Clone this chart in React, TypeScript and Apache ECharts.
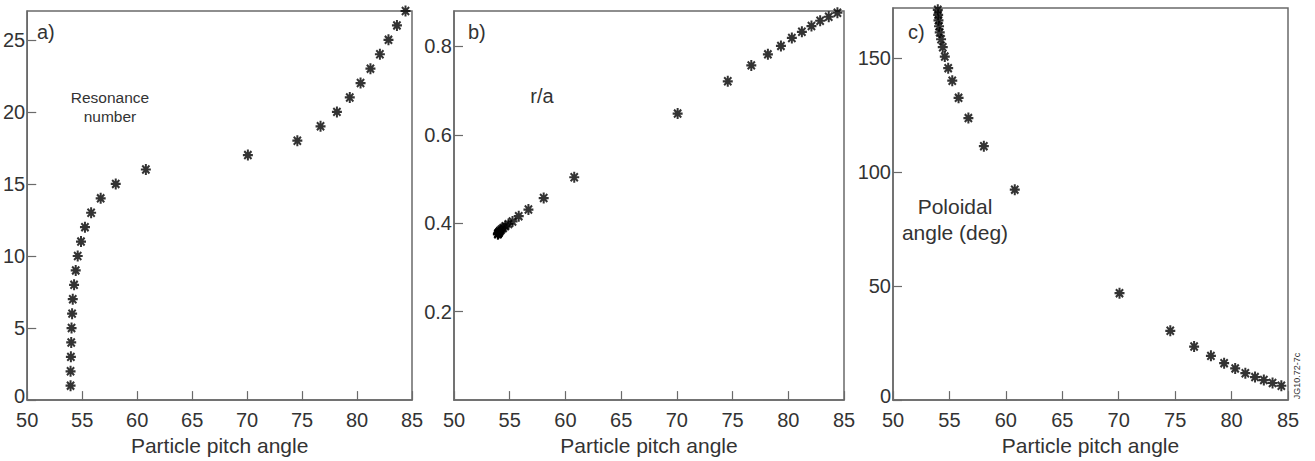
import React, { useEffect, useRef } from "react";
import * as echarts from "echarts";

// Resonance numbers 1..27 and their particle pitch angles
const resonanceNumber = [1,2,3,4,5,6,7,8,9,10,11,12,13,14,15,16,17,18,19,20,21,22,23,24,25,26,27];
const pitchAngle = [53.94,53.94,53.97,54.0,54.03,54.08,54.14,54.26,54.41,54.59,54.89,55.25,55.81,56.68,58.05,60.79,70.07,74.57,76.68,78.17,79.34,80.32,81.22,82.08,82.86,83.63,84.41];
const rOverA = [0.375,0.376,0.377,0.378,0.379,0.381,0.383,0.386,0.389,0.393,0.398,0.404,0.416,0.431,0.457,0.504,0.648,0.721,0.757,0.782,0.801,0.819,0.833,0.846,0.858,0.867,0.876];
const poloidalAngle = [173.5,172.3,171.2,169.0,166.6,164.0,161.3,158.3,154.8,150.7,145.6,140.1,132.6,123.7,111.4,92.3,46.9,30.4,23.5,19.4,16.2,13.9,11.8,10.1,8.8,7.5,6.3];

const xTitle = "Particle pitch angle";
const FONT = "Liberation Sans, Arial, Helvetica, sans-serif";
const TXT = "#333";
const AX = "#6a6a6a";

const STAR = "path://M0,-5L0,5M-5,0L5,0M-3.6,-3.6L3.6,3.6M-3.6,3.6L3.6,-3.6";

export default function App() {
  const ref = useRef<HTMLDivElement>(null);
  useEffect(() => {
    if (!ref.current) return;
    const chart = echarts.init(ref.current, null, { renderer: "svg" });
    const grids = [
      { left: 21, top: 11, width: 391, height: 391 },
      { left: 454, top: 11, width: 390, height: 391 },
      { left: 893, top: 8, width: 395, height: 394 },
    ];
    const yDefs = [
      { min: 0, max: 27, interval: 5, showMin: true },
      { min: 0, max: 0.88, interval: 0.2, showMin: false },
      { min: 0, max: 172, interval: 50, showMin: true },
    ];
    const series = [
      resonanceNumber.map((n, i) => [pitchAngle[i], n]),
      rOverA.map((v, i) => [pitchAngle[i], v]),
      poloidalAngle.map((v, i) => [pitchAngle[i], v]),
    ];
    const option: any = {
      animation: false,
      backgroundColor: "#fff",
      grid: grids.map((g) => ({ ...g, show: true, borderColor: AX, borderWidth: 1.5, backgroundColor: "transparent" })),
      xAxis: grids.map((_, i) => ({
        type: "value",
        gridIndex: i,
        min: 50,
        max: 85,
        interval: 5,
        name: xTitle,
        nameLocation: "middle",
        nameGap: 31,
        nameTextStyle: { fontFamily: FONT, fontSize: 21, color: TXT },
        axisLine: { show: true, lineStyle: { color: AX, width: 1.5 } },
        axisTick: { show: true, inside: true, length: 9, lineStyle: { color: AX, width: 1.2 } },
        axisLabel: { fontFamily: FONT, fontSize: 20, lineHeight: 18, color: TXT, margin: 11 },
        splitLine: { show: false },
      })),
      yAxis: yDefs.map((d, i) => ({
        type: "value",
        gridIndex: i,
        min: d.min,
        max: d.max,
        interval: d.interval,
        axisLine: { show: true, lineStyle: { color: AX, width: 1.5 } },
        axisTick: { show: true, inside: true, length: 9, lineStyle: { color: AX, width: 1.2 } },
        axisLabel: {
          fontFamily: FONT, fontSize: 20, lineHeight: 16, color: TXT, margin: 2,
          showMaxLabel: false, showMinLabel: d.showMin,
          formatter: (v: number) => (v === 0 ? "{z|0}" : String(v)),
          rich: { z: { fontFamily: FONT, fontSize: 20, lineHeight: 16, color: TXT, padding: [0, 0, 8, 0] } },
        },
        splitLine: { show: false },
      })),
      series: series.map((data, i) => ({
        type: "scatter",
        xAxisIndex: i,
        yAxisIndex: i,
        data,
        symbol: STAR,
        symbolSize: [10, 11],
        itemStyle: { color: "none", borderColor: "#000", borderWidth: 2.1 },
        clip: true,
      })),
      graphic: [
        { type: "text", left: 37, top: 22, style: { text: "a)", font: `20px ${FONT}`, fill: TXT } },
        { type: "text", left: 468, top: 22, style: { text: "b)", font: `20px ${FONT}`, fill: TXT } },
        { type: "text", left: 908, top: 22, style: { text: "c)", font: `20px ${FONT}`, fill: TXT } },
        { type: "text", x: 110, y: 88, style: { text: "Resonance\nnumber", font: `15.5px ${FONT}`, fill: TXT, align: "center", lineHeight: 19 } },
        { type: "text", x: 542, y: 86, style: { text: "r/a", font: `20px ${FONT}`, fill: TXT, align: "center" } },
        { type: "text", x: 955, y: 193, style: { text: "Poloidal\nangle (deg)", font: `21px ${FONT}`, fill: TXT, align: "center", lineHeight: 26 } },
        { type: "text", x: 1297, y: 376, rotation: Math.PI / 2, style: { text: "JG10.72-7c", font: `9px ${FONT}`, fill: TXT, align: "center", verticalAlign: "middle" } },
      ],
    };
    chart.setOption(option);
    return () => chart.dispose();
  }, []);
  return <div ref={ref} style={{ position: "fixed", left: 0, top: 0, width: 1315, height: 461 }} />;
}
